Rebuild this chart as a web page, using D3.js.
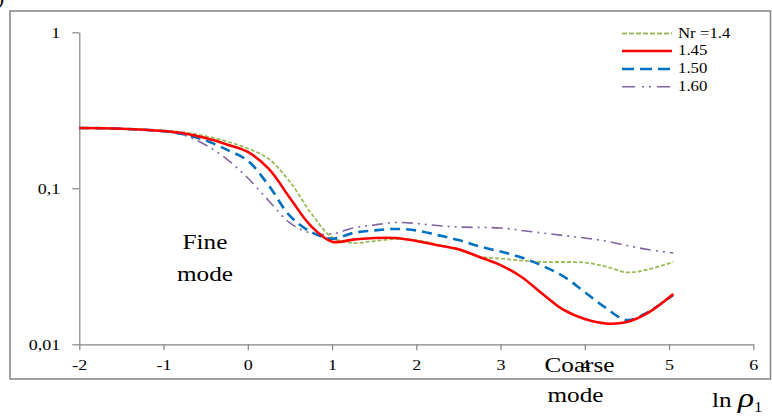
<!DOCTYPE html>
<html>
<head>
<meta charset="utf-8">
<script src="https://cdn.jsdelivr.net/npm/d3@7"></script>
<style>
  html, body { margin: 0; padding: 0; background: #fff; }
  svg { display: block; }
  text { font-family: "Liberation Serif", "Times New Roman", serif; fill: #000; }
</style>
</head>
<body>
<svg id="chart" width="772" height="418"></svg>
<script>
// ---- data ----
const xValues = [-2, -1.5, -1, -0.75, -0.5, -0.25, 0, 0.25, 0.5, 0.75, 1, 1.25, 1.5, 1.75, 2, 2.25, 2.5, 2.75, 3, 3.25, 3.5, 3.75, 4, 4.25, 4.5, 4.75, 5.05];
const nr140 = [0.2435, 0.241, 0.235, 0.228, 0.216, 0.200, 0.180, 0.154, 0.110, 0.0695, 0.0485, 0.0446, 0.0459, 0.0473, 0.0465, 0.0436, 0.0402, 0.0365, 0.0355, 0.0344, 0.0337, 0.0337, 0.0334, 0.0315, 0.0289, 0.0302, 0.0337];
const nr145 = [0.2435, 0.241, 0.2328, 0.2246, 0.210, 0.191, 0.171, 0.133, 0.0867, 0.0573, 0.0455, 0.0469, 0.048, 0.048, 0.046, 0.0432, 0.0407, 0.0363, 0.0322, 0.027, 0.021, 0.0166, 0.01452, 0.0136, 0.0139, 0.0159, 0.021];
const nr150 = [0.2435, 0.241, 0.232, 0.221, 0.2025, 0.177, 0.150, 0.104, 0.0665, 0.0525, 0.0475, 0.0517, 0.0537, 0.0549, 0.0537, 0.0502, 0.0466, 0.0424, 0.0393, 0.036, 0.0318, 0.0272, 0.0216, 0.0171, 0.0143, 0.0161, 0.0207];
const nr160 = [0.2435, 0.240, 0.231, 0.2185, 0.1895, 0.154, 0.1164, 0.083, 0.060, 0.0515, 0.051, 0.0557, 0.0582, 0.0604, 0.0595, 0.0577, 0.0565, 0.0561, 0.0557, 0.0537, 0.0517, 0.0498, 0.048, 0.0459, 0.043, 0.0405, 0.0385];
const seriesNames = ["Nr =1.4", "1.45", "1.50", "1.60"];
const xTicks = [-2, -1, 0, 1, 2, 3, 4, 5, 6];
const yTicks = [0.01, 0.1, 1];
const yTickLabels = ["0,01", "0,1", "1"];

// ---- styles ----
const styles = [
  { color: "#9BBB59", width: 1.8, dash: "4,2", legendDash: "5,2" },
  { color: "#FF0000", width: 2.6, dash: null, legendDash: null },
  { color: "#0070C0", width: 2.6, dash: "10,6", legendDash: "12,6" },
  { color: "#8064A2", width: 1.6, dash: "11,5,2,5,2,5", legendDash: "13,7,2,5,2,6" }
];
const seriesValues = [nr140, nr145, nr150, nr160];
const SX = 1.2; // horizontal stretch of text

const svg = d3.select("#chart");

// outer frame
svg.append("rect")
  .attr("x", 10).attr("y", 11).attr("width", 760.5).attr("height", 368)
  .attr("fill", "none").attr("stroke", "#8a8a8a").attr("stroke-width", 1.6);

const x = d3.scaleLinear().domain([-2, 6]).range([79.3, 753.3]);
const y = d3.scaleLog().domain([0.01, 1]).range([344.3, 32.3]);

function stretch(sel) {
  sel.each(function () {
    const t = d3.select(this);
    const ox = +t.attr("x") || 0;
    t.attr("x", ox / SX).attr("transform", `scale(${SX},1)`);
  });
}

// y axis
const yAxis = d3.axisLeft(y)
  .tickValues(yTicks)
  .tickFormat((d, i) => yTickLabels[i])
  .tickSize(7).tickSizeOuter(0).tickPadding(12);
const gy = svg.append("g").attr("transform", `translate(${x(-2)},0)`).call(yAxis);
gy.selectAll("path, line").attr("stroke", "#868686").attr("stroke-width", 1.2);
gy.selectAll("text").attr("font-size", 15).attr("fill", "#000")
  .attr("font-family", "Liberation Serif, serif").attr("dy", "0.33em");
stretch(gy.selectAll("text"));

// x axis
const xAxis = d3.axisBottom(x)
  .tickValues(xTicks)
  .tickFormat(d3.format("d"))
  .tickSize(6).tickSizeOuter(0).tickPadding(9);
const gx = svg.append("g").attr("transform", `translate(0,${y(0.01)})`).call(xAxis);
gx.selectAll("path, line").attr("stroke", "#868686").attr("stroke-width", 1.2);
gx.selectAll("text").attr("font-size", 15).attr("fill", "#000")
  .attr("font-family", "Liberation Serif, serif");
gx.selectAll("text").text(d => d < 0 ? "-" + Math.abs(d) : String(d));
stretch(gx.selectAll("text"));

// series lines
const line = d3.line()
  .x((d, i) => x(xValues[i]))
  .y(d => y(d))
  .curve(d3.curveCatmullRom.alpha(0.5));

const drawOrder = [3, 0, 2, 1];
drawOrder.forEach(k => {
  const p = svg.append("path")
    .datum(seriesValues[k])
    .attr("d", line)
    .attr("fill", "none")
    .attr("stroke", styles[k].color)
    .attr("stroke-width", styles[k].width)
    .attr("stroke-linejoin", "round");
  if (styles[k].dash) p.attr("stroke-dasharray", styles[k].dash);
});

// legend
const legendY = [33.5, 51, 69, 86.7];
seriesNames.forEach((name, k) => {
  const l = svg.append("line")
    .attr("x1", 622).attr("x2", 672)
    .attr("y1", legendY[k]).attr("y2", legendY[k])
    .attr("stroke", styles[k].color)
    .attr("stroke-width", styles[k].width);
  if (styles[k].legendDash) l.attr("stroke-dasharray", styles[k].legendDash);
  const t = svg.append("text")
    .attr("x", 678).attr("y", legendY[k] + 4.5)
    .attr("font-size", 14)
    .text(name);
  stretch(t);
});

// annotations
function label(txt, cx, by, size, anchor) {
  const t = svg.append("text")
    .attr("x", cx).attr("y", by)
    .attr("font-size", size)
    .attr("text-anchor", anchor || "middle")
    .text(txt);
  stretch(t);
  return t;
}
label("Fine", 205, 249, 21);
label("mode", 205, 281, 21);
label("Coarse", 579.5, 372, 21);
label("mode", 575.5, 402, 21);

// axis title ln ρ1
const tl = svg.append("text").attr("x", 712).attr("y", 407).attr("font-size", 21);
tl.append("tspan").text("ln ");
tl.append("tspan").attr("font-style", "italic").attr("font-size", 28).text("ρ");
tl.append("tspan").attr("font-size", 14).attr("dy", 5).text("1");
stretch(tl);

// corner fragment of panel label
svg.append("text").attr("x", -3).attr("y", 4).attr("font-size", 22).text(")");
</script>
</body>
</html>
